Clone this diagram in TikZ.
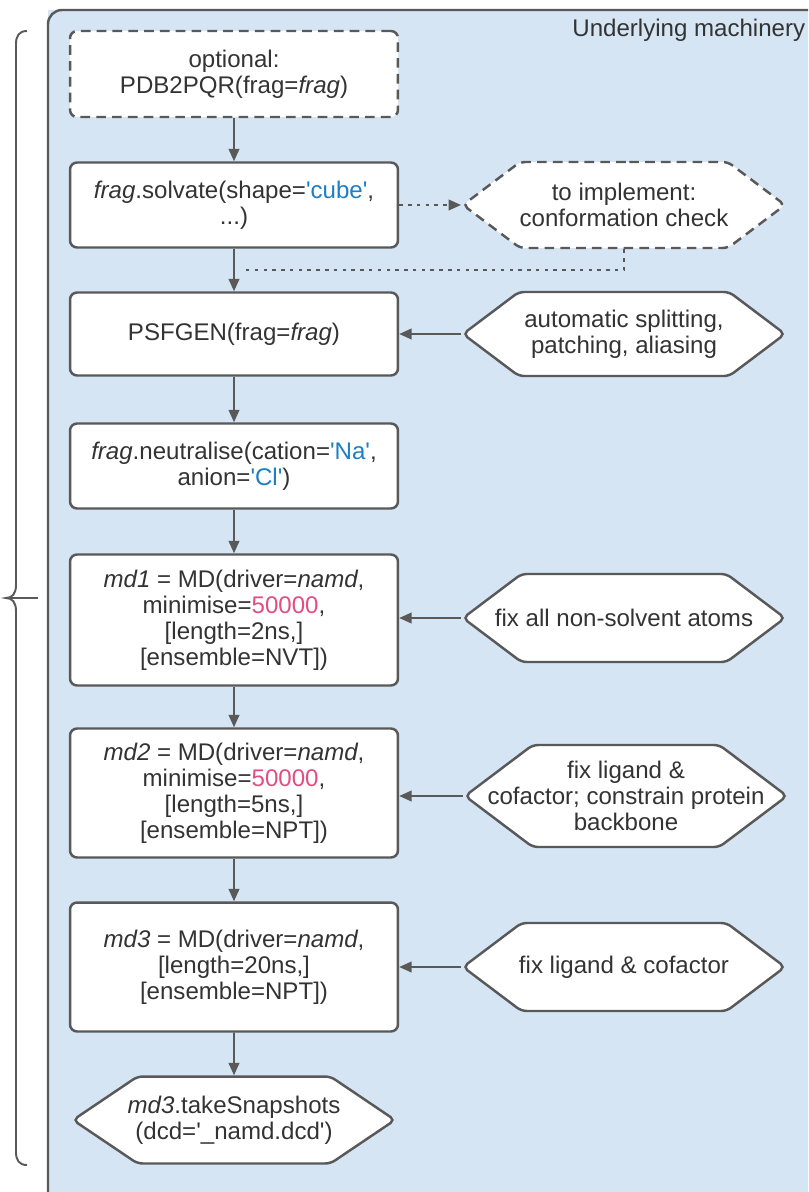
\documentclass[tikz,border=0pt]{standalone}
\usepackage{fontspec}
\setmainfont{Liberation Sans}
\usepackage{tikz}
\usetikzlibrary{shapes}
\usetikzlibrary{arrows.meta}
\definecolor{linegray}{HTML}{595959}
\definecolor{panelblue}{HTML}{D5E5F3}
\definecolor{codeblue}{HTML}{1C7FC4}
\definecolor{numpink}{HTML}{E34D80}
\definecolor{txtgray}{HTML}{333333}
\newcommand{\q}{\textquotesingle}
\newcommand{\labelfont}{\fontsize{13.7}{14.8}\selectfont}
\tikzset{
	proc/.style={rectangle,draw=linegray,fill=white,line width=1.4pt,rounded corners=4pt,
		minimum width=6.56cm,align=center,text=txtgray,font=\labelfont},
	hexa/.style={signal,signal to=west and east,signal pointer angle=74,draw=linegray,fill=white,
		line width=1.4pt,rounded corners=3pt,minimum width=6.44cm,inner xsep=-1.2cm,
		align=center,text=txtgray,font=\labelfont},
	opt/.style={dash pattern=on 5.5pt off 3.5pt},
	link/.style={line width=1.1pt,dash pattern=on 2pt off 3pt}
}

\begin{document}
\begin{tikzpicture}[x=0.02cm,y=-0.02cm,->,>={Triangle[length=7pt,width=6pt]},
	    color=linegray,line width=1.1pt]
	    \useasboundingbox (0,0) rectangle (808,1192);
	    \fill[panelblue] (48,1192) -- (48,18) to[rounded corners=0pt] (48,10) -- (808,10) -- (808,1192) -- cycle;
	    \draw[-,line width=1.4pt,rounded corners=8pt] (48,1192) -- (48,10) -- (808,10);
	    \node[anchor=north east,text=txtgray,font=\labelfont] (title) at (812,12) {Underlying machinery};
	    \draw[-] (27,31) .. controls (19,31) and (16,36) .. (16,44) -- (16,585)
	      .. controls (16,594) and (12,598) .. (6,598) .. controls (12,598) and (16,602) .. (16,611)
	      -- (16,1152) .. controls (16,1160) and (19,1165) .. (27,1165);
	    \draw[-] (6,598) -- (38,598);
	    \node[proc,opt,minimum height=1.72cm] (pdb) at (234,74) {optional:\\PDB2PQR(frag=\textit{frag})};
	    \node[proc,minimum height=1.70cm] (solv) at (234,205) {\textit{frag}.solvate(shape=\textcolor{codeblue}{\q cube\q},\\...)};
	    \node[hexa,opt,minimum height=1.72cm] (conf) at (624,205) {to implement:\\conformation check};
	    \node[proc,minimum height=1.66cm] (psf) at (234,334) {PSFGEN(frag=\textit{frag})};
	    \node[hexa,minimum height=1.68cm] (auto) at (624,334) {automatic splitting,\\patching, aliasing};
	    \node[proc,minimum height=1.70cm] (neut) at (234,466) {\textit{frag}.neutralise(cation=\textcolor{codeblue}{\q Na\q},\\anion=\textcolor{codeblue}{\q Cl\q})};
	    \node[proc,minimum height=2.62cm] (mdone) at (234,620) {\textit{md1} = MD(driver=\textit{namd},\\minimise=\textcolor{numpink}{50000},\\{[}length=2ns,{]}\\{[}ensemble=NVT{]})};
	    \node[hexa,minimum height=1.76cm] (fixall) at (624,618) {fix all non-solvent atoms};
	    \node[proc,minimum height=2.58cm] (mdtwo) at (234,793) {\textit{md2} = MD(driver=\textit{namd},\\minimise=\textcolor{numpink}{50000},\\{[}length=5ns,{]}\\{[}ensemble=NPT{]})};
	    \node[hexa,minimum height=2.04cm] (fixbb) at (626,796) {fix ligand \&\\cofactor; constrain protein\\backbone};
	    \node[proc,minimum height=2.58cm] (mdthree) at (234,967) {\textit{md3} = MD(driver=\textit{namd},\\{[}length=20ns,{]}\\{[}ensemble=NPT{]})};
	    \node[hexa,minimum height=1.76cm] (fixlig) at (624,967) {fix ligand \& cofactor};
	    \node[hexa,signal pointer angle=68,minimum height=1.74cm] (snap) at (234,1120) {\textit{md3}.takeSnapshots\\(dcd=\q\_namd.dcd\q)};
	    \coordinate (join) at (242,270);
	    \draw (pdb) -- (solv);
	    \draw (solv) -- (psf);
	    \draw (psf) -- (neut);
	    \draw (neut) -- (mdone);
	    \draw (mdone) -- (mdtwo);
	    \draw (mdtwo) -- (mdthree);
	    \draw (mdthree) -- (snap);
	    \draw[link] (solv.east) -- (conf.west);
	    \draw[link,-] (conf.south) |- (join);
	    \draw (auto.west) -- (auto.west -| psf.east);
	    \draw (fixall.west) -- (fixall.west -| mdone.east);
	    \draw (fixbb.west) -- (fixbb.west -| mdtwo.east);
	    \draw (fixlig.west) -- (fixlig.west -| mdthree.east);
	  \end{tikzpicture}
\end{document}
